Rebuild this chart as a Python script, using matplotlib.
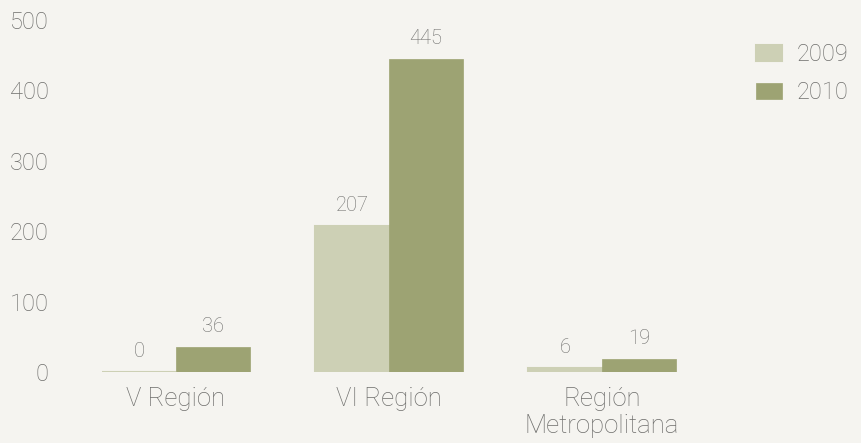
import matplotlib
matplotlib.use("Agg")
import matplotlib.pyplot as plt
import numpy as np

categories = ["V Región", "VI Región", "Región\nMetropolitana"]
series_names = ["2009", "2010"]
values_2009 = [0, 207, 6]
values_2010 = [36, 445, 19]
yticks = [0, 100, 200, 300, 400, 500]

bg = "#F5F4F0"
c09 = "#CDD0B5"
c10 = "#9DA373"
txt = "#6E6E6C"

plt.rcParams['font.family'] = ['Roboto', 'DejaVu Sans']
fw = "light"

fig = plt.figure(figsize=(8.62, 4.43), dpi=100, facecolor=bg)
ax = fig.add_axes([60/862, (443-372)/443, (730-60)/862, (372-20)/443], facecolor=bg)

x = np.arange(len(categories))
w = 74/213
b1 = ax.bar(x - w/2, values_2009, width=w, color=c09, edgecolor=c09, linewidth=1.5, label=series_names[0])
b2 = ax.bar(x + w/2, values_2010, width=w, color=c10, edgecolor=c10, linewidth=0.5, label=series_names[1])

for bars, vals in ((b1, values_2009), (b2, values_2010)):
    for r, v in zip(bars, vals):
        ax.annotate(str(v), (r.get_x() + r.get_width()/2, r.get_height()),
                    xytext=(0, 8), textcoords="offset points", ha="center", va="bottom",
                    fontsize=14.5, color=txt, fontweight=fw)

ax.set_xlim((60-176)/213, (730-176)/213)
ax.set_ylim(0, 500)
ax.set_yticks(yticks)
ax.set_yticklabels([str(t) for t in yticks], fontsize=17, color=txt, fontweight=fw)
ax.set_xticks(x)
ax.set_xticklabels(categories, fontsize=18.5, color=txt, fontweight=fw, linespacing=1.15)
ax.tick_params(axis="both", length=0)
ax.tick_params(axis="y", pad=8)
ax.tick_params(axis="x", pad=11)
for s in ax.spines.values():
    s.set_visible(False)

leg = fig.legend(loc="upper left", bbox_to_anchor=(754/862, 1 - 41/443), frameon=False,
                 prop={"size": 17, "weight": fw}, handlelength=1.1, handleheight=0.64,
                 handletextpad=0.62, labelspacing=0.62, borderaxespad=0, borderpad=0.1)
for t in leg.get_texts():
    t.set_color(txt)

fig.savefig("out.png", dpi=100, facecolor=bg)
